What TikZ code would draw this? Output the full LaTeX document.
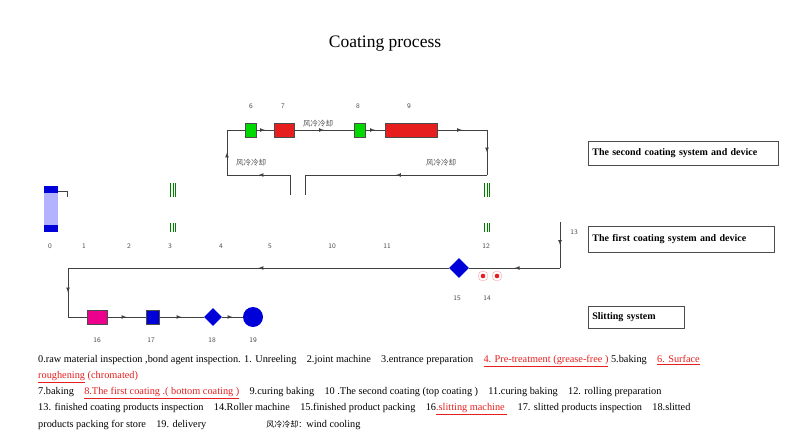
\documentclass[tikz,border=0pt]{standalone}
\usepackage{fontspec}
\setmainfont{Liberation Serif}
\newfontfamily\cjk{Noto Sans CJK SC}
\usetikzlibrary{shapes.geometric,decorations.markings}
\definecolor{rd}{RGB}{230,30,30}
\newcommand{\rt}[1]{\textcolor{rd}{\underline{#1}}}
\begin{document}
\begin{tikzpicture}[x=1pt,y=-1pt,
  lbl/.style={font=\fontsize{7}{8}\selectfont\sffamily,text=black!70},
  cn/.style={font=\cjk\fontsize{7.5}{8}\selectfont,text=black!70},
  ln/.style={draw=black!75,line width=0.7pt},
  flow/.style={ln,postaction={decorate},decoration={markings,mark=at position 0.5 with {\arrow{latex}}}},
  sysbox/.style={draw=black!70,line width=0.7pt,font=\bfseries\fontsize{10}{12}\selectfont,inner sep=0pt,anchor=north west},
  desc/.style={anchor=west,inner sep=0pt,font=\fontsize{10.3}{12}\selectfont}]
\useasboundingbox (0,0) rectangle (800,444);
\node (title) at (385,44) {\fontsize{17.5}{20}\selectfont Coating process};
% top loop
\coordinate (a0) at (290,195); \coordinate (a1) at (290,175); \coordinate (a2) at (227,175);
\coordinate (a3) at (227,130); \coordinate (a4) at (487,130); \coordinate (a5) at (487,175);
\coordinate (a6) at (305,175); \coordinate (a7) at (305,195);
\node[draw=black!70,fill=green!85!black,minimum width=11pt,minimum height=14pt,inner sep=0] (n6) at (250.5,130) {};
\node[draw=black!70,fill=rd,minimum width=20pt,minimum height=14pt,inner sep=0] (n7) at (284,130) {};
\node[draw=black!70,fill=green!85!black,minimum width=11pt,minimum height=14pt,inner sep=0] (n8) at (359.5,130) {};
\node[draw=black!70,fill=rd,minimum width=52pt,minimum height=14pt,inner sep=0] (n9) at (411,130) {};
\draw[ln] (a0) -- (a1);
\draw[flow] (a1) -- (a2);
\draw[flow] (a2) -- (a3);
\draw[ln] (a3) -- (n6.west);
\draw[flow] (n6.east) -- (n7.west);
\draw[flow] (n7.east) -- (n8.west);
\draw[flow] (n8.east) -- (n9.west);
\draw[flow] (n9.east) -- (a4);
\draw[flow] (a4) -- (a5);
\draw[flow] (a5) -- (a6);
\draw[ln] (a6) -- (a7);
\node[lbl] (l6) at (251,106) {6};
\node[lbl] (l7) at (283,106) {7};
\node[lbl] (l8) at (358,106) {8};
\node[lbl] (l9) at (409,106) {9};
\node[cn] (c1) at (318,124) {风冷冷却};
\node[cn] (c2) at (251,163) {风冷冷却};
\node[cn] (c3) at (441,163) {风冷冷却};
% first row
\node[fill=blue!30,minimum width=14pt,minimum height=46pt,inner sep=0] (n0) at (51,209) {};
\fill[blue!85!black] (44,186) rectangle (58,193);
\fill[blue!85!black] (44,225) rectangle (58,232);
\coordinate (b1) at (67,191); \coordinate (b2) at (67,197);
\draw[ln] (58,191) -- (b1) -- (b2);
\foreach \xx in {170.5,173,175.5}{
  \draw[green!50!black,line width=0.6pt] (\xx,183) -- (\xx,197);
  \draw[green!50!black,line width=0.6pt] (\xx,223) -- (\xx,232);
}
\foreach \xx in {484.5,487,489.5}{
  \draw[green!50!black,line width=0.6pt] (\xx,183) -- (\xx,197);
  \draw[green!50!black,line width=0.6pt] (\xx,223) -- (\xx,232);
}
\foreach \t/\xx in {0/50,1/84,2/129,3/170,4/221,5/270,10/332,11/387,12/486}{
  \node[lbl] (r\t) at (\xx,246) {\t};
}
% lower loop
\coordinate (d0) at (560,222); \coordinate (d1) at (560,268);
\coordinate (d2) at (68,268); \coordinate (d3) at (68,317);
\node[lbl] (l13) at (574,232) {13};
\node[diamond,fill=blue!85!black,minimum width=20pt,minimum height=20pt,inner sep=0] (n15) at (459,268) {};
\node[circle,draw=rd!40,fill=white,minimum size=10pt,inner sep=0] (n14a) at (483,276) {};
\node[circle,draw=rd!40,fill=white,minimum size=10pt,inner sep=0] (n14b) at (497,276) {};
\fill[rd] (n14a) circle (2.3); \fill[rd] (n14b) circle (2.3);
\draw[flow] (d0) -- (d1);
\draw[flow] (d1) -- (n15.east);
\draw[flow] (n15.west) -- (d2);
\draw[flow] (d2) -- (d3);
\node[lbl] (l15) at (457,298) {15};
\node[lbl] (l14) at (487,298) {14};
\node[draw=black!70,fill=magenta,minimum width=20pt,minimum height=14pt,inner sep=0] (n16) at (97,317) {};
\node[draw=black!70,fill=blue!85!black,minimum width=13pt,minimum height=14pt,inner sep=0] (n17) at (152.5,317) {};
\node[diamond,fill=blue!85!black,minimum width=18pt,minimum height=18pt,inner sep=0] (n18) at (213,317) {};
\node[circle,fill=blue!85!black,minimum size=20pt,inner sep=0] (n19) at (253,317) {};
\draw[ln] (d3) -- (n16.west);
\draw[flow] (n16.east) -- (n17.west);
\draw[flow] (n17.east) -- (n18.west);
\draw[flow] (n18.east) -- (n19.west);
\foreach \t/\xx in {16/97,17/151,18/212,19/253}{
  \node[lbl] (r\t) at (\xx,340) {\t};
}
% system boxes
\node[sysbox,minimum width=190pt,minimum height=24pt,text width=182pt,align=left,inner xsep=4pt] (s2) at (588,141) {The second coating system and device};
\node[sysbox,minimum width=186pt,minimum height=26pt,text width=178pt,align=left,inner xsep=4pt] (s1) at (588,226) {The first coating system and device};
\node[sysbox,minimum width=96pt,minimum height=22pt,text width=88pt,align=left,inner xsep=4pt] (s3) at (588,306) {Slitting system};
% description
\node[desc] (t1) at (38,361) {0.raw material inspection ,bond agent inspection. 1. Unreeling\quad 2.joint machine\quad 3.entrance preparation\quad \rt{4. Pre-treatment (grease-free )} 5.baking\quad \rt{6. Surface}};
\node[desc] (t2) at (38,377) {\rt{roughening} \textcolor{rd}{(chromated)}};
\node[desc] (t3) at (38,393) {7.baking\quad \rt{8.The first coating .( bottom coating )}\quad 9.curing baking\quad 10 .The second coating (top coating )\quad 11.curing baking\quad 12. rolling preparation};
\node[desc] (t4) at (38,409) {13. finished coating products inspection\quad 14.Roller machine\quad 15.finished product packing\quad 16\rt{.slitting machine~}\quad 17. slitted products inspection\quad 18.slitted};
\node[desc] (t5) at (38,425) {products packing for store\quad 19. delivery\hspace{60pt}{\cjk\fontsize{8}{9}\selectfont 风冷冷却：}wind cooling};
\end{tikzpicture}
\end{document}
